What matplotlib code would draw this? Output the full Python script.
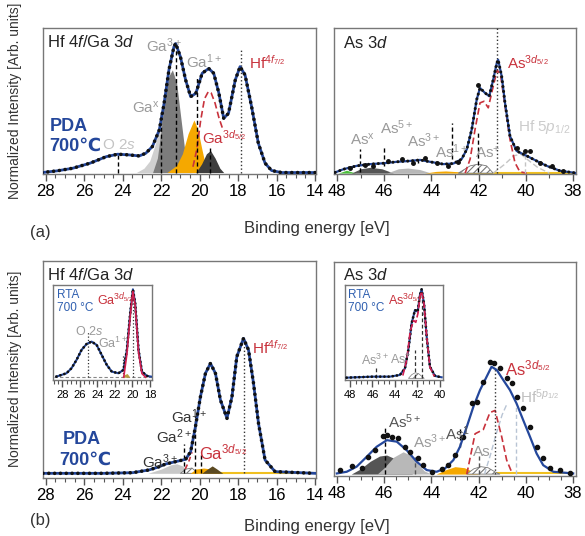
import matplotlib
matplotlib.use("Agg")
import matplotlib.pyplot as plt
from matplotlib.ticker import MultipleLocator

plt.rcParams['font.family'] = ['Liberation Sans', 'DejaVu Sans']
plt.rcParams['mathtext.fontset'] = 'custom'
plt.rcParams['mathtext.rm'] = 'Liberation Sans'
plt.rcParams['mathtext.it'] = 'Liberation Sans:italic'
plt.rcParams['mathtext.bf'] = 'Liberation Sans:bold'
plt.rcParams['hatch.linewidth'] = 0.8

BLUE = '#24479b'
RED = '#c8323c'
GREY = '#9a9a9a'
LGREY = '#c4c4c4'
ORANGE = '#f5a800'

# ---------------- (a) Hf 4f / Ga 3d, PDA 700 C ----------------
a_hf_x = [28.2, 27.4, 26.6, 25.7, 24.86, 24.26, 23.66, 23.14, 22.8, 22.46, 22.1, 21.85,
          21.6, 21.34, 21.25, 21.0, 20.73, 20.47, 20.2, 19.87, 19.53, 19.27, 19.0, 18.75,
          18.5, 18.15, 17.9, 17.64, 17.3, 16.95, 16.6, 16.26, 15.74, 14.0]
a_hf_y = [0.0, 0.012, 0.03, 0.065, 0.11, 0.127, 0.122, 0.115, 0.134, 0.18, 0.295, 0.48,
          0.71, 0.87, 0.894, 0.80, 0.64, 0.525, 0.548, 0.687, 0.72, 0.687, 0.548, 0.375,
          0.41, 0.64, 0.733, 0.675, 0.456, 0.203, 0.065, 0.014, 0.0, 0.0]
a_gax_x = [23.3, 22.9, 22.6, 22.3, 22.0, 21.8, 21.5, 21.2, 20.9, 20.5]
a_gax_y = [0.0, 0.03, 0.08, 0.2, 0.36, 0.40, 0.30, 0.15, 0.05, 0.0]
a_ga3_x = [22.45, 22.2, 22.0, 21.8, 21.6, 21.42, 21.2, 21.0, 20.8, 20.6, 20.4]
a_ga3_y = [0.0, 0.1, 0.3, 0.55, 0.67, 0.71, 0.62, 0.4, 0.18, 0.05, 0.0]
a_gam_x = [21.7, 21.2, 20.9, 20.6, 20.3, 20.1, 19.9, 19.7, 19.5]
a_gam_y = [0.0, 0.05, 0.13, 0.27, 0.364, 0.30, 0.17, 0.05, 0.0]
a_ga1_x = [20.2, 19.9, 19.65, 19.44, 19.2, 18.95, 18.75]
a_ga1_y = [0.0, 0.06, 0.13, 0.152, 0.10, 0.03, 0.0]
a_hf52_x = [20.35, 20.15, 19.95, 19.75, 19.55, 19.4, 19.2, 19.0, 18.8]
a_hf52_y = [0.04, 0.16, 0.36, 0.51, 0.56, 0.55, 0.48, 0.38, 0.30]
a_vl = [(24.26, 0.134, '--'), (22.02, 0.42, '--'), (21.25, 0.87, '--'),
        (20.13, 0.66, '--'), (19.44, 0.18, '--'), (17.86, 0.86, ':')]

# ---------------- (a) As 3d ----------------
a_as_x = [48.08, 47.73, 47.17, 46.6, 46.04, 45.47, 44.91, 44.48, 44.06, 43.5, 43.07, 42.72,
          42.5, 42.29, 42.08, 41.94, 41.73, 41.55, 41.38, 41.23, 41.17, 41.02, 40.88, 40.67,
          40.39, 39.96, 39.54, 39.11, 38.55, 37.84]
a_as_y = [0.005, 0.027, 0.05, 0.062, 0.068, 0.078, 0.084, 0.091, 0.078, 0.062, 0.066, 0.096,
          0.164, 0.301, 0.507, 0.587, 0.553, 0.53, 0.644, 0.758, 0.781, 0.667, 0.484, 0.256,
          0.153, 0.119, 0.084, 0.05, 0.016, 0.0]
a_as_pts_x = [47.45, 46.81, 46.46, 45.83, 45.26, 44.77, 44.27, 43.78, 43.28, 42.86, 42.01,
              40.39, 40.03, 39.82, 39.4, 38.9, 38.4]
a_as_pts_y = [0.032, 0.055, 0.046, 0.084, 0.10, 0.073, 0.107, 0.073, 0.05, 0.078, 0.61,
              0.176, 0.153, 0.153, 0.073, 0.05, 0.016]
a_as3d_x = [42.57, 42.36, 42.15, 41.94, 41.77, 41.59, 41.38, 41.21, 41.06, 40.88, 40.67, 40.46, 40.25, 39.96]
a_as3d_y = [0.0, 0.096, 0.301, 0.484, 0.495, 0.45, 0.598, 0.712, 0.667, 0.461, 0.233, 0.073, 0.009, 0.0]
a_as0_x = [42.86, 42.36, 42.01, 41.66, 41.38]
a_as0_y = [0.0, 0.05, 0.062, 0.05, 0.0]
a_hf5p_x = [41.38, 40.9, 40.5, 40.2, 39.9, 39.5, 39.0]
a_hf5p_y = [0.0, 0.06, 0.12, 0.13, 0.09, 0.04, 0.0]
a_green_x = [47.95, 47.6, 47.2]
a_green_y = [0.0, 0.02, 0.0]
a_asx_x = [47.4, 47.0, 46.6, 46.1, 45.6]
a_asx_y = [0.0, 0.03, 0.04, 0.03, 0.0]
a_as5_x = [45.9, 45.4, 45.0, 44.5, 44.0]
a_as5_y = [0.0, 0.03, 0.035, 0.025, 0.0]
a_as3_x = [44.3, 43.8, 43.4, 42.9, 42.5]
a_as3_y = [0.0, 0.012, 0.015, 0.01, 0.0]
a_as_vl = [(47.03, 0.005, 0.164, '--', 'k'), (46.01, 0.05, 0.187, '--', 'k'),
           (44.55, 0.07, 0.12, '--', 'k'), (43.11, 0.096, 0.347, '--', 'k'),
           (42.01, 0.005, 0.28, '--', 'k'), (41.2, 0.0, 1.0, ':', '#333'),
           (40.03, 0.0, 0.16, '--', LGREY)]

# ---------------- (b) Hf 4f / Ga 3d ----------------
b_hf_x = [28.15, 25.0, 23.49, 22.63, 22.11, 21.77, 21.25, 20.73, 20.47, 20.22, 19.96, 19.7,
          19.44, 19.18, 18.92, 18.58, 18.32, 18.07, 17.72, 17.46, 17.2, 16.94, 16.6, 16.08, 14.0]
b_hf_y = [0.0, 0.0, 0.003, 0.016, 0.031, 0.044, 0.055, 0.066, 0.102, 0.22, 0.361, 0.471,
          0.518, 0.471, 0.345, 0.259, 0.361, 0.549, 0.636, 0.581, 0.424, 0.235, 0.063, 0.008, 0.0]
b_ga3_x = [22.7, 22.0, 21.5, 21.2, 20.9, 20.6, 20.4]
b_ga3_y = [0.0, 0.02, 0.04, 0.045, 0.035, 0.01, 0.0]
b_hat_x = [21.0, 20.7, 20.4, 20.1]
b_hat_y = [0.0, 0.02, 0.025, 0.0]
b_gam_x = [20.5, 20.2, 19.8, 19.4, 19.0]
b_gam_y = [0.0, 0.02, 0.025, 0.02, 0.0]
b_ga1_x = [19.9, 19.6, 19.35, 19.1, 18.8]
b_ga1_y = [0.0, 0.02, 0.035, 0.02, 0.0]
b_red_x = [20.75, 20.55, 20.4]
b_red_y = [0.02, 0.06, 0.10]
b_vl = [(20.82, 0.14, '--'), (20.25, 0.27, '--'), (19.95, 0.10, '--'), (17.72, 0.63, ':')]

# inset RTA 700 C, Hf 4f / Ga 3d
bi_hf_x = [28.69, 27.54, 26.97, 26.39, 25.82, 25.24, 24.67, 24.09, 23.52, 22.94, 22.37,
           21.61, 21.03, 20.64, 20.26, 19.95, 19.69, 19.31, 18.92, 18.34, 17.89]
bi_hf_y = [0.007, 0.043, 0.097, 0.188, 0.296, 0.361, 0.386, 0.35, 0.242, 0.134, 0.061,
           0.043, 0.079, 0.296, 0.693, 0.953, 0.801, 0.296, 0.061, 0.014, 0.007]
bi_red_x = [21.0, 20.64, 20.26, 19.95, 19.69, 19.31, 18.92, 18.5]
bi_red_y = [0.0, 0.25, 0.66, 0.93, 0.78, 0.27, 0.04, 0.0]

# ---------------- (b) As 3d ----------------
b_as_x = [48.01, 47.59, 47.17, 46.74, 46.32, 45.89, 45.47, 45.05, 44.62, 44.2, 43.78, 43.42,
          43.07, 42.79, 42.5, 42.22, 41.94, 41.66, 41.45, 41.23, 40.95, 40.67, 40.39, 40.11,
          39.82, 39.54, 39.26, 38.83, 37.99]
b_as_y = [0.003, 0.011, 0.035, 0.082, 0.129, 0.16, 0.153, 0.113, 0.058, 0.019, 0.011, 0.027,
          0.066, 0.129, 0.223, 0.318, 0.396, 0.459, 0.506, 0.491, 0.443, 0.396, 0.333, 0.255,
          0.176, 0.097, 0.042, 0.011, 0.003]
b_as_pts_x = [47.87, 47.38, 46.95, 46.67, 46.39, 46.04, 45.87, 45.69, 45.4, 45.12, 44.9, 44.55,
              44.34, 43.99, 43.56, 43.28, 43.0, 42.65, 42.3, 42.08, 41.8, 41.52, 41.35, 41.1,
              40.81, 40.6, 40.39, 40.11, 39.82, 39.54, 39.26, 38.97, 38.55, 38.13]
b_as_pts_y = [0.019, 0.038, 0.031, 0.082, 0.113, 0.179, 0.184, 0.176, 0.168, 0.129, 0.105, 0.074,
              0.042, 0.011, 0.022, 0.042, 0.09, 0.176, 0.333, 0.341, 0.436, 0.53, 0.522, 0.498,
              0.451, 0.428, 0.365, 0.31, 0.223, 0.129, 0.074, 0.027, 0.019, 0.006]
b_asx_x = [47.4, 47.0, 46.6, 46.2, 45.9, 45.5, 45.1, 44.8]
b_asx_y = [0.0, 0.025, 0.06, 0.085, 0.09, 0.07, 0.03, 0.0]
b_as5_x = [46.3, 46.0, 45.6, 45.2, 44.9, 44.6, 44.3, 44.0]
b_as5_y = [0.0, 0.03, 0.08, 0.105, 0.09, 0.05, 0.015, 0.0]
b_as3_x = [43.8, 43.4, 43.0, 42.6, 42.3, 42.0]
b_as3_y = [0.0, 0.02, 0.035, 0.03, 0.015, 0.0]
b_as0_x = [42.5, 42.2, 41.9, 41.6, 41.3, 41.1]
b_as0_y = [0.0, 0.025, 0.035, 0.03, 0.01, 0.0]
b_as3d_x = [42.5, 42.15, 41.8, 41.52, 41.3, 41.02, 40.81, 40.6]
b_as3d_y = [0.0, 0.19, 0.21, 0.29, 0.30, 0.176, 0.066, 0.01]
b_hf5p_x = [41.75, 41.5, 41.25, 41.0, 40.8]
b_hf5p_y = [0.0, 0.09, 0.19, 0.28, 0.33]
b_as_vl = [(45.97, 0.0, 0.215, '--', 'k'), (44.7, 0.0, 0.08, '--', '#555'),
           (42.79, 0.13, 0.22, '--', 'k'), (42.0, 0.0, 0.10, '--', '#555'),
           (41.3, 0.0, 0.50, ':', '#333'), (40.4, 0.0, 0.33, '--', '#b8c4d4')]

# inset RTA 700 C, As 3d
bi_as_x = [48.29, 45.93, 44.44, 43.56, 43.11, 42.81, 42.52, 42.22, 41.98, 41.78, 41.63,
           41.42, 41.18, 40.89, 40.44, 39.85]
bi_as_y = [0.007, 0.018, 0.018, 0.036, 0.107, 0.304, 0.589, 0.732, 0.714, 0.893, 0.954,
           0.804, 0.446, 0.125, 0.025, 0.011]
bi_red_as_x = [43.3, 42.95, 42.65, 42.35, 42.15, 41.95, 41.78, 41.63, 41.42, 41.18, 40.89, 40.5]
bi_red_as_y = [0.03, 0.2, 0.5, 0.62, 0.6, 0.7, 0.88, 0.93, 0.8, 0.45, 0.12, 0.02]
bi_as0_x = [42.8, 42.5, 42.2, 41.9, 41.6, 41.4]
bi_as0_y = [0.0, 0.04, 0.06, 0.05, 0.02, 0.0]


def style(ax, xlim, ylim, minor, fs=12, major=2):
    ax.set_xlim(*xlim)
    ax.set_ylim(*ylim)
    ax.set_yticks([])
    ax.xaxis.set_major_locator(MultipleLocator(major))
    ax.xaxis.set_minor_locator(MultipleLocator(minor))
    ax.tick_params(axis='x', which='major', direction='out', length=5, width=1,
                   color='#555', labelsize=fs, pad=2)
    ax.tick_params(axis='x', which='minor', direction='out', length=3, width=0.8, color='#555')
    for s in ax.spines.values():
        s.set_color('#777')
        s.set_linewidth(1)


def envelope(ax, x, y, lw=2.0):
    ax.plot(x, y, color=BLUE, lw=lw, zorder=5)
    ax.plot(x, y, color='#111', lw=lw + 0.6, ls=(0, (0.01, 1.6)),
            dash_capstyle='round', zorder=6)


def vlines(ax, lines):
    for x, y0, y1, ls, c in lines:
        ax.plot([x, x], [y0, y1], ls=(0, (3, 2)) if ls == '--' else ':', color=c, lw=1, zorder=4)


def txt(ax, x, y, s, c, fs=11, **kw):
    ax.text(x, y, s, color=c, fontsize=fs, ha='left', va='center', zorder=8, **kw)


fig = plt.figure(figsize=(5.85, 5.36), dpi=100)
W, H = 585.0, 536.0


def box(l, t, r, b):
    return fig.add_axes([l / W, 1 - b / H, (r - l) / W, (b - t) / H])


# ---- top left ----
ax = box(43, 28, 316, 174)
style(ax, (28.15, 13.95), (-0.01, 1.0), 0.5)
ax.fill_between(a_gax_x, a_gax_y, color='#d0d0d0', lw=0, zorder=1)
ax.fill_between(a_ga3_x, a_ga3_y, color='#7c7c7c', lw=0, zorder=2)
ax.fill_between(a_gam_x, a_gam_y, color=ORANGE, lw=0, zorder=2)
ax.fill_between(a_ga1_x, a_ga1_y, color='#3e3e3e', lw=0, zorder=3)
ax.plot(a_hf52_x, a_hf52_y, color=RED, lw=1.2, ls=(0, (4, 2)), zorder=4)
vlines(ax, [(x, 0, t, ls, 'k' if ls == '--' else '#333') for x, t, ls in a_vl])
envelope(ax, a_hf_x, a_hf_y)
txt(ax, 27.95, 0.90, r'Hf 4$\mathit{f}$/Ga 3$\mathit{d}$', '#222', 12)
txt(ax, 22.78, 0.88, r'Ga$^{3+}$', GREY)
txt(ax, 20.72, 0.765, r'Ga$^{1+}$', GREY)
txt(ax, 17.46, 0.76, r'Hf$^{4\mathit{f}_{7/2}}$', RED)
txt(ax, 23.5, 0.447, r'Ga$^{\mathrm{x}}$', GREY)
txt(ax, 27.8, 0.316, 'PDA', BLUE, 13, fontweight='bold')
txt(ax, 27.8, 0.184, '700℃', BLUE, 13, fontweight='bold')
txt(ax, 25.06, 0.19, r'O 2$\mathit{s}$', LGREY)
txt(ax, 19.9, 0.24, r'Ga$^{3\mathit{d}_{5/2}}$', RED)

# ---- top right ----
ax = box(334, 28, 576, 174)
style(ax, (48.13, 37.87), (-0.006, 1.0), 1)
ax.fill_between(a_green_x, a_green_y, color='#4cc03c', lw=0, zorder=1)
ax.fill_between(a_asx_x, a_asx_y, color='#555', lw=0, zorder=1)
ax.fill_between(a_as5_x, a_as5_y, color='#b8b8b8', lw=0, zorder=1)
ax.fill_between(a_as3_x, a_as3_y, color=ORANGE, lw=0, zorder=1)
ax.plot([42.5, 37.9], [0.002, 0.002], color='#f0c020', lw=1.5, zorder=1)
ax.fill_between(a_as0_x, a_as0_y, facecolor='white', edgecolor='#777', hatch='/////',
                lw=0.6, zorder=2)
ax.plot(a_hf5p_x, a_hf5p_y, color=LGREY, lw=1, ls=(0, (4, 2)), zorder=3)
ax.plot(a_as3d_x, a_as3d_y, color=RED, lw=1.2, ls=(0, (4, 2)), zorder=4)
vlines(ax, a_as_vl)
envelope(ax, a_as_x, a_as_y, lw=1.6)
ax.plot(a_as_pts_x, a_as_pts_y, 'o', color='#111', ms=2.5, zorder=7)
txt(ax, 47.75, 0.897, r'As 3$\mathit{d}$', '#222', 12)
txt(ax, 47.45, 0.233, r'As$^{\mathrm{x}}$', GREY)
txt(ax, 46.18, 0.315, r'As$^{5+}$', GREY)
txt(ax, 45.05, 0.225, r'As$^{3+}$', GREY)
txt(ax, 43.85, 0.15, r'As$^{1+}$', GREY)
txt(ax, 42.15, 0.144, r'As$^{+}$', GREY)
txt(ax, 40.8, 0.76, r'As$^{3\mathit{d}_{5/2}}$', RED)
txt(ax, 40.33, 0.315, r'Hf 5$\mathit{p}_{1/2}$', '#cccccc')

# ---- bottom left ----
ax = box(43, 261, 316, 478)
style(ax, (28.15, 13.95), (-0.022, 1.0), 0.5)
ax.fill_between(b_ga3_x, b_ga3_y, color='#c8c8c8', lw=0, zorder=1)
ax.fill_between(b_hat_x, b_hat_y, facecolor='white', edgecolor='#777', hatch='/////',
                lw=0.6, zorder=2)
ax.fill_between(b_gam_x, b_gam_y, color=ORANGE, lw=0, zorder=2)
ax.fill_between(b_ga1_x, b_ga1_y, color='#5b4a22', lw=0, zorder=3)
ax.plot([19.0, 14.0], [0.002, 0.002], color='#f0c020', lw=1.5, zorder=1)
ax.plot(b_red_x, b_red_y, color=RED, lw=1.2, ls=(0, (3, 2)), zorder=4)
vlines(ax, [(x, 0, t, ls, 'k' if ls == '--' else '#333') for x, t, ls in b_vl])
envelope(ax, b_hf_x, b_hf_y)
txt(ax, 27.95, 0.934, r'Hf 4$\mathit{f}$/Ga 3$\mathit{d}$', '#222', 12)
txt(ax, 17.3, 0.59, r'Hf$^{4\mathit{f}_{7/2}}$', RED)
txt(ax, 21.5, 0.265, r'Ga$^{1+}$', '#333')
txt(ax, 22.27, 0.171, r'Ga$^{2+}$', '#333')
txt(ax, 22.99, 0.053, r'Ga$^{3+}$', '#333')
txt(ax, 20.05, 0.10, r'Ga$^{3\mathit{d}_{5/2}}$', RED, 12)
txt(ax, 27.12, 0.157, 'PDA', BLUE, 13, fontweight='bold')
txt(ax, 27.28, 0.063, '700℃', BLUE, 13, fontweight='bold')

# inset
ax = box(53, 285, 152, 380)
style(ax, (29.08, 17.77), (-0.03, 1.0), 0.5, fs=8)
ax.plot([29.0, 17.8], [0, 0], color='#888', lw=0.8, ls=(0, (3, 2)), zorder=1)
ax.fill_between([21.2, 20.9, 20.6, 20.3], [0, 0.03, 0.04, 0], color='#b8a040', lw=0, zorder=2)
for x, t in [(25.06, 0.49), (21.03, 0.25), (19.92, 0.97)]:
    ax.plot([x, x], [0, t], ls=':', color='#333', lw=0.9, zorder=3)
ax.plot(bi_hf_x, bi_hf_y, color=BLUE, lw=1.5, zorder=5)
ax.plot(bi_hf_x, bi_hf_y, color='#111', lw=2.0, ls=(0, (0.01, 1.5)), dash_capstyle='round', zorder=6)
ax.plot(bi_red_x, bi_red_y, color='#d02050', lw=1.2, zorder=7)
txt(ax, 28.66, 0.89, 'RTA', '#3060b0', 8.5)
txt(ax, 28.66, 0.75, '700 °C', '#3060b0', 8.5)
txt(ax, 24.06, 0.84, r'Ga$^{3\mathit{d}_{5/2}}$', RED, 9)
txt(ax, 26.6, 0.50, r'O 2$\mathit{s}$', GREY, 9)
txt(ax, 23.95, 0.37, r'Ga$^{1+}$', GREY, 9)

# ---- bottom right ----
ax = box(334, 262, 576, 476)
style(ax, (48.13, 37.87), (-0.009, 1.0), 0.5)
ax.fill_between(b_asx_x, b_asx_y, color='#555', lw=0, zorder=1)
ax.fill_between(b_as5_x, b_as5_y, color='#b8b8b8', lw=0, zorder=2)
ax.fill_between(b_as3_x, b_as3_y, color=ORANGE, lw=0, zorder=2)
ax.plot([42.0, 38.3], [0.003, 0.003], color='#f0c020', lw=1.5, zorder=1)
ax.fill_between(b_as0_x, b_as0_y, facecolor='white', edgecolor='#777', hatch='/////',
                lw=0.6, zorder=3)
ax.plot(b_hf5p_x, b_hf5p_y, color='#b8c4d4', lw=1, ls=(0, (4, 2)), zorder=3)
ax.plot(b_as3d_x, b_as3d_y, color=RED, lw=1.2, ls=(0, (4, 2)), zorder=4)
vlines(ax, b_as_vl)
ax.plot(b_as_x, b_as_y, color=BLUE, lw=1.6, zorder=5)
ax.plot(b_as_pts_x, b_as_pts_y, 'o', color='#111', ms=3, zorder=6)
txt(ax, 47.75, 0.94, r'As 3$\mathit{d}$', '#222', 12)
txt(ax, 40.88, 0.50, r'As$^{3\mathit{d}_{5/2}}$', RED, 12)
txt(ax, 40.25, 0.365, r'Hf$^{5\mathit{p}_{1/2}}$', '#c0c0c0')
txt(ax, 45.84, 0.247, r'As$^{5+}$', '#555')
txt(ax, 44.78, 0.153, r'As$^{3+}$', GREY)
txt(ax, 43.42, 0.19, r'As$^{1}$', '#555')
txt(ax, 42.24, 0.105, 'As', GREY)

# inset
ax = box(345, 285, 443, 380)
style(ax, (48.44, 39.73), (-0.018, 1.0), 0.5, fs=8)
ax.fill_between(bi_as0_x, bi_as0_y, facecolor='white', edgecolor='#777', hatch='////',
                lw=0.5, zorder=2)
for x, t in [(45.69, 0.11), (42.22, 0.30), (41.63, 0.95)]:
    ax.plot([x, x], [0, t], ls=(0, (3, 2)), color='#333', lw=0.9, zorder=3)
ax.plot(bi_as_x, bi_as_y, color=BLUE, lw=1.5, zorder=5)
ax.plot(bi_as_x, bi_as_y, color='#111', lw=2.0, ls=(0, (0.01, 1.5)), dash_capstyle='round', zorder=6)
ax.plot(bi_red_as_x, bi_red_as_y, color='#d02050', lw=1.2, ls=(0, (4, 1.5)), zorder=7)
txt(ax, 48.18, 0.89, 'RTA', '#3060b0', 8.5)
txt(ax, 48.18, 0.75, '700 °C', '#3060b0', 8.5)
txt(ax, 44.62, 0.84, r'As$^{3\mathit{d}_{5/2}}$', RED, 9)
txt(ax, 47.0, 0.196, r'As$^{3+}$', GREY, 9)
txt(ax, 44.45, 0.196, r'As$^{+}$', GREY, 9)

# ---- figure labels ----
for yc in (101, 369):
    fig.text(15 / W, 1 - yc / H, 'Normalized Intensity [Arb. units]', rotation=90,
             ha='center', va='center', fontsize=10, color='#333')
fig.text(317 / W, 1 - 228 / H, 'Binding energy [eV]', ha='center', va='center', fontsize=12, color='#333')
fig.text(317 / W, 1 - 527 / H, 'Binding energy [eV]', ha='center', va='center', fontsize=12, color='#333')
fig.text(40 / W, 1 - 233 / H, '(a)', ha='center', va='center', fontsize=12, color='#333')
fig.text(40 / W, 1 - 520 / H, '(b)', ha='center', va='center', fontsize=12, color='#333')

fig.savefig('out.png', dpi=100)
